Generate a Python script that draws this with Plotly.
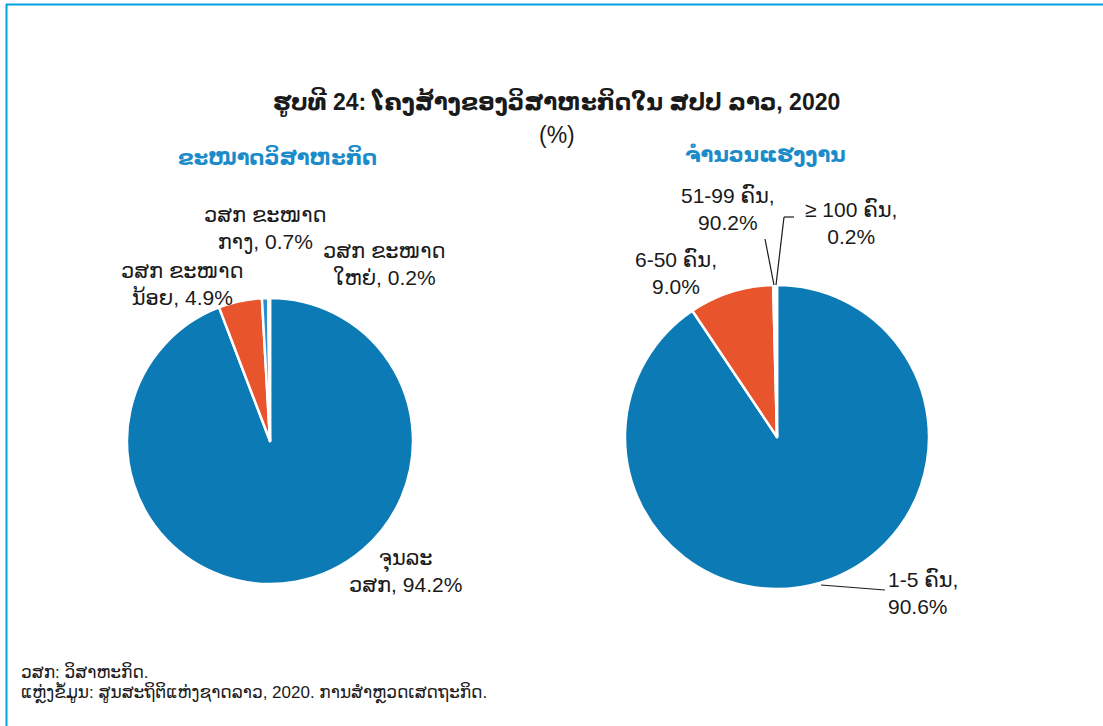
import plotly.graph_objects as go

W, H = 1103, 726

# ---- data ----
size_labels = ["ຈຸນລະ ວສກ", "ວສກ ຂະໜາດນ້ອຍ", "ວສກ ຂະໜາດກາງ", "ວສກ ຂະໜາດໃຫຍ່"]
size_values = [94.2, 4.9, 0.7, 0.2]
size_text = ["ຈຸນລະ<br>ວສກ, 94.2%", "ວສກ ຂະໜາດ<br>ນ້ອຍ, 4.9%",
             "ວສກ ຂະໜາດ<br>ກາງ, 0.7%", "ວສກ ຂະໜາດ<br>ໃຫຍ່, 0.2%"]

work_labels = ["1-5 ຄົນ", "6-50 ຄົນ", "51-99 ຄົນ", "≥ 100 ຄົນ"]
work_values = [90.6, 9.0, 0.2, 0.2]
work_text = ["1-5 ຄົນ,<br>90.6%", "6-50 ຄົນ,<br>9.0%",
             "51-99 ຄົນ,<br>90.2%", "≥ 100 ຄົນ,<br>0.2%"]

title = "ຮູບທີ 24: ໂຄງສ້າງຂອງວິສາຫະກິດໃນ ສປປ ລາວ, 2020"
sub_left = "ຂະໜາດວິສາຫະກິດ"
sub_right = "ຈຳນວນແຮງງານ"
notes = ["ວສກ: ວິສາຫະກິດ.",
         "ແຫຼ່ງຂໍ້ມູນ: ສູນສະຖິຕິແຫ່ງຊາດລາວ, 2020. ການສຳຫຼວດເສດຖະກິດ."]

colors = ["#0b7ab5", "#e8542c", "#2a8fcb", "#e9eef2"]
FONT = "Liberation Sans, Arial, DejaVu Sans, sans-serif"

def px(x):
    return x / W

def py(y):
    return 1 - y / H

fig = go.Figure()
fig.add_trace(go.Pie(
    labels=size_labels, values=size_values, sort=False, direction="clockwise",
    rotation=0, textinfo="none", hoverinfo="label+percent",
    marker=dict(colors=colors, line=dict(color="white", width=2.5)),
    domain=dict(x=[px(127), px(413)], y=[py(584), py(298)]),
    showlegend=False,
))
fig.add_trace(go.Pie(
    labels=work_labels, values=work_values, sort=False, direction="clockwise",
    rotation=0, textinfo="none", hoverinfo="label+percent",
    marker=dict(colors=colors, line=dict(color="white", width=2.5)),
    domain=dict(x=[px(625), px(929)], y=[py(589), py(285)]),
    showlegend=False,
))

ann = []
def add(text, x, y, size=21, color="#1a1a1a", bold=False, xanchor="center", align="center"):
    t = f"<b>{text}</b>" if bold else text
    ann.append(dict(text=t, x=px(x), y=py(y), xref="paper", yref="paper",
                    showarrow=False, xanchor=xanchor, yanchor="middle", align=align,
                    font=dict(family=FONT, size=size, color=color)))

add(title, 556, 102, size=23, bold=True)
add("(%)", 557, 135, size=23)
add(sub_left, 277, 157, size=21, color="#1c8bc9", bold=True)
add(sub_right, 765, 155, size=21, color="#1c8bc9", bold=True)

# left pie labels
add(size_text[0], 405, 571)
add(size_text[1], 182, 284)
add(size_text[2], 265, 228)
add(size_text[3], 384, 264)
# right pie labels
add(work_text[0], 886, 593, xanchor="left", align="left")
add(work_text[1], 676, 273)
add(work_text[2], 728, 209)
add(work_text[3], 851, 223)

add(notes[0], 19, 672, size=17, xanchor="left", align="left")
add(notes[1], 19, 693, size=17, xanchor="left", align="left")

shapes = []
def line(x0, y0, x1, y1, color="#1a1a1a", width=1.2):
    shapes.append(dict(type="line", xref="paper", yref="paper",
                       x0=px(x0), y0=py(y0), x1=px(x1), y1=py(y1),
                       line=dict(color=color, width=width)))

# leader lines
line(765, 239, 774, 285)
line(794, 217, 784, 217)
line(784, 217, 776, 285)
line(821, 585, 885, 590)

# frame lines
line(6, 4.5, W, 4.5, color="#00a0df", width=2)
line(6.5, 4, 6.5, H, color="#00a0df", width=2)

fig.update_layout(
    width=W, height=H, autosize=False,
    margin=dict(l=0, r=0, t=0, b=0),
    paper_bgcolor="white", plot_bgcolor="white",
    annotations=ann, shapes=shapes,
    font=dict(family=FONT),
)

fig.write_html("out.html", config={"displayModeBar": False},
               post_script="document.body.style.margin='0';document.body.style.overflow='hidden';")
